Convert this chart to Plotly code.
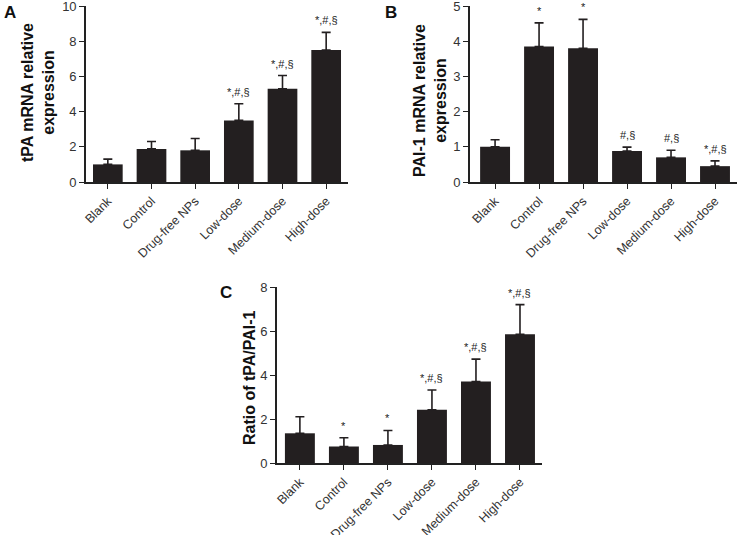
import plotly.graph_objects as go

groups = ["Blank", "Control", "Drug-free NPs", "Low-dose", "Medium-dose", "High-dose"]

# panel A: tPA mRNA
tpa_mean = [1.0, 1.88, 1.8, 3.5, 5.3, 7.5]
tpa_sd = [0.3, 0.42, 0.67, 0.95, 0.75, 1.0]
tpa_sig = ["", "", "", "*,#,§", "*,#,§", "*,#,§"]

# panel B: PAI-1 mRNA
pai_mean = [1.0, 3.85, 3.8, 0.88, 0.7, 0.45]
pai_sd = [0.2, 0.67, 0.82, 0.11, 0.2, 0.15]
pai_sig = ["", "*", "*", "#,§", "#,§", "*,#,§"]

# panel C: ratio
ratio_mean = [1.35, 0.75, 0.82, 2.42, 3.7, 5.85]
ratio_sd = [0.75, 0.4, 0.66, 0.9, 1.02, 1.35]
ratio_sig = ["", "*", "*", "*,#,§", "*,#,§", "*,#,§"]

W, H = 738, 535
BAR = "#231f20"
FONT = "Liberation Sans, Arial, sans-serif"

fig = go.Figure()

panels = [
    # xaxis, yaxis, mean, sd, sig, x px span, y px span (bottom, top), ymax, dtick, xrange
    ("x", "y", tpa_mean, tpa_sd, tpa_sig, (86, 348), (182, 6), 10, 2, [-0.5, 5.5]),
    ("x2", "y2", pai_mean, pai_sd, pai_sig, (470, 737), (182, 6), 5, 1, [-0.57, 5.5]),
    ("x3", "y3", ratio_mean, ratio_sd, ratio_sig, (277, 542), (463, 287), 8, 2, [-0.52, 5.5]),
]

for i, (xa, ya, mean, sd, sig, xs, ys, ymax, dt, xr) in enumerate(panels):
    fig.add_trace(go.Bar(
        x=groups, y=mean, xaxis=xa, yaxis=ya, width=0.68,
        marker=dict(color=BAR, line=dict(width=0)),
        error_y=dict(type="data", array=sd, arrayminus=[0] * len(sd), symmetric=False,
                     color=BAR, thickness=1.6, width=4.5),
        showlegend=False,
    ))
    for g, m, s, t in zip(groups, mean, sd, sig):
        if t:
            fig.add_annotation(x=g, y=m + s, xref=xa, yref=ya, text=t, showarrow=False,
                               yanchor="bottom", yshift=4,
                               font=dict(size=11, color="#222", family=FONT))
    sfx = "" if i == 0 else str(i + 1)
    fig.layout["xaxis" + sfx] = dict(
        domain=[xs[0] / W, xs[1] / W], anchor=ya, range=xr, type="category",
        showline=True, linecolor="#222", linewidth=1.6, ticks="outside", ticklen=5,
        tickcolor="#222", tickwidth=1.4, tickangle=-45, automargin=False,
        ticklabeloverflow="allow",
        tickfont=dict(size=12.5, color="#333", family=FONT), showgrid=False)
    fig.layout["yaxis" + sfx] = dict(
        domain=[1 - ys[0] / H, 1 - ys[1] / H], anchor=xa, range=[0, ymax], dtick=dt,
        showline=True, linecolor="#222", linewidth=1.6, ticks="outside", ticklen=5,
        tickcolor="#222", tickwidth=1.4, zeroline=False, showgrid=False, automargin=False,
        ticklabeloverflow="allow",
        tickfont=dict(size=13, color="#333", family=FONT))

# y-axis titles and panel letters
titles = [
    ("tPA mRNA relative<br>expression", 38, 93),
    ("PAI-1 mRNA relative<br>expression", 430, 100),
    ("Ratio of tPA/PAI-1", 249, 378),
]
for text, px, py in titles:
    fig.add_annotation(text="<b>" + text + "</b>", x=px / W, y=1 - py / H, xref="paper", yref="paper",
                       xanchor="center", yanchor="middle",
                       textangle=-90, showarrow=False, align="center",
                       font=dict(size=16, color="#111", family=FONT))

for letter, px, py in [("A", 10, 12), ("B", 391, 12), ("C", 226, 292)]:
    fig.add_annotation(text="<b>" + letter + "</b>", x=px / W, y=1 - py / H, xref="paper", yref="paper",
                       xanchor="center", yanchor="middle",
                       showarrow=False, font=dict(size=17, color="#111", family=FONT))

fig.update_layout(width=W, height=H, margin=dict(l=0, r=0, t=0, b=0, autoexpand=False),
                  plot_bgcolor="white", paper_bgcolor="white", bargap=0.32)

# the page body has a default 8px margin; drop it so the figure fills the window
fig.write_html("out.html", config={"displayModeBar": False},
               post_script="document.body.style.margin='0';")
